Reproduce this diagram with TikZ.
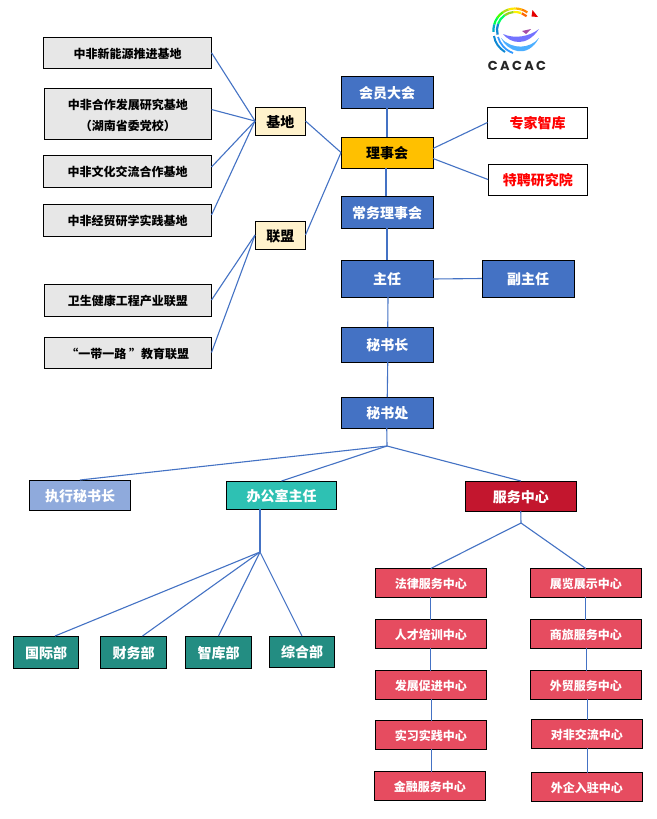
\documentclass[tikz,border=0pt]{standalone}
\usepackage{fontspec}
\setmainfont{Noto Sans CJK SC}
\newfontfamily\logofont[LetterSpace=18]{Poppins}
\usetikzlibrary{calc}
\definecolor{linkc}{HTML}{4472C4}
\definecolor{blueb}{HTML}{4472C4}
\definecolor{lightb}{HTML}{8FAADC}
\definecolor{teal1}{HTML}{2EC1B3}
\definecolor{teal2}{HTML}{238D82}
\definecolor{redb}{HTML}{E64C60}
\definecolor{darkr}{HTML}{C3162E}
\definecolor{amber}{HTML}{FFC000}
\definecolor{cream}{HTML}{FFF2CC}
\definecolor{greyb}{HTML}{E7E7E7}
\tikzset{
  boxbase/.style={draw=black,line width=0.9pt,inner sep=0pt,outer sep=0pt,align=center,text height=14pt,text depth=1.4pt,font=\fontsize{14}{20}\selectfont\bfseries},
  smalltext/.style={text height=12.3pt,text depth=1.2pt,font=\fontsize{12}{16}\selectfont\bfseries},
  greybox/.style={boxbase,smalltext,fill=greyb,text=black},
  twolines/.style={text height=,text depth=,font=\fontsize{12}{21}\selectfont\bfseries},
  creambox/.style={boxbase,fill=cream,text=black},
  bluebox/.style={boxbase,fill=blueb,text=white},
  amberbox/.style={boxbase,fill=amber,text=black},
  whitebox/.style={boxbase,fill=white,text=red},
  lightbox/.style={boxbase,fill=lightb,text=white},
  tealbox/.style={boxbase,fill=teal1,text=white},
  deepbox/.style={boxbase,fill=teal2,text=white},
  redbox/.style={boxbase,smalltext,fill=redb,text=white},
  crimson/.style={boxbase,fill=darkr,text=white},
  link/.style={draw=linkc,line width=1.1pt},
  feather/.style={line width=2.2pt,line cap=butt}
}
\newcommand{\bx}[7]{%
  \pgfmathsetmacro{\bxw}{#4-#2-0.5}\pgfmathsetmacro{\bxh}{#5-#3}%
  \pgfmathsetmacro{\bxcx}{(#2+#4-0.5)/2}\pgfmathsetmacro{\bxcy}{(#3+#5)/2}%
  \node[#6,minimum width=\bxw pt,minimum height=\bxh pt] (#1) at (\bxcx,\bxcy) {#7};}
\begin{document}
\begin{tikzpicture}[x=1pt,y=-1pt]
\useasboundingbox (0,0) rectangle (656,819);
\fill[white] (0,0) rectangle (656,819);
% boxes
\bx{b1}{43.5}{37.5}{212}{68}{greybox}{中非新能源推进基地}
\bx{b2}{44}{88}{212}{139}{greybox,twolines}{\rule{0pt}{15pt}中非合作发展研究基地\\（湖南省委党校）}
\bx{b3}{43.5}{155}{212}{187}{greybox}{中非文化交流合作基地}
\bx{b4}{43.5}{204}{212}{236}{greybox}{中非经贸研学实践基地}
\bx{l1}{44}{284}{212}{316}{greybox}{卫生健康工程产业联盟}
\bx{l2}{44}{337}{212}{368}{greybox}{“一带一路 ”教育联盟}
\bx{jd}{255}{107}{306}{135}{creambox}{基地}
\bx{lm}{255}{221}{306}{249}{creambox}{联盟}
\bx{hy}{341}{76}{433.5}{108}{bluebox}{会员大会}
\bx{ls}{341}{137}{433.5}{168}{amberbox}{理事会}
\bx{cw}{341}{196}{433.5}{228}{bluebox}{常务理事会}
\bx{zr}{341}{260}{433.5}{297}{bluebox}{主任}
\bx{fz}{482}{260}{574.5}{297}{bluebox}{副主任}
\bx{zj}{487.5}{107}{588}{138}{whitebox}{专家智库}
\bx{tp}{488}{164}{588}{195}{whitebox}{特聘研究院}
\bx{ms}{341}{327}{434}{362}{bluebox}{秘书长}
\bx{mc}{341}{397}{434}{428}{bluebox}{秘书处}
\bx{zx}{29.5}{480}{131}{510}{lightbox}{执行秘书长}
\bx{bg}{226.5}{481}{337}{509}{tealbox}{办公室主任}
\bx{fw}{465}{481}{577}{511}{crimson}{服务中心}
\bx{gj}{13.5}{636}{79}{668}{deepbox}{国际部}
\bx{cb}{100.5}{636}{167}{668}{deepbox}{财务部}
\bx{zk}{185.5}{636}{252}{668}{deepbox}{智库部}
\bx{zh}{269.5}{636}{335}{667}{deepbox}{综合部}
\bx{r1}{375.5}{568.5}{486.5}{597}{redbox}{法律服务中心}
\bx{r2}{375.5}{619.5}{486.5}{648}{redbox}{人才培训中心}
\bx{r3}{375.5}{670.5}{486.5}{699}{redbox}{发展促进中心}
\bx{r4}{375.5}{720.5}{486.5}{749}{redbox}{实习实践中心}
\bx{r5}{374.5}{771.5}{485.5}{800}{redbox}{金融服务中心}
\bx{s1}{530.5}{568.5}{641.5}{597}{redbox}{展览展示中心}
\bx{s2}{530.5}{619.5}{641.5}{648}{redbox}{商旅服务中心}
\bx{s3}{530.5}{670.5}{641.5}{699}{redbox}{外贸服务中心}
\bx{s4}{531.5}{719.5}{642.5}{748}{redbox}{对非交流中心}
\bx{s5}{531.5}{772.5}{642.5}{801}{redbox}{外企入驻中心}
% junctions
\coordinate (j0) at (387,446);
\coordinate (j1) at (260,552);
\coordinate (j2) at (521,523);
% connectors
\draw[link] (b1.east) -- (jd.west);
\draw[link] ([yshift=4pt]b2.east) -- (jd.west);
\draw[link] ([yshift=4pt]b3.east) -- (jd.west);
\draw[link] ([yshift=5pt]b4.east) -- (jd.west);
\draw[link] (l1.east) -- (lm.west);
\draw[link] (l2.east) -- (lm.west);
\draw[link] (jd.east) -- (ls.west);
\draw[link] (lm.east) -- (ls.west);
\draw[link] (hy.south) -- (ls.north);
\draw[link] ([xshift=-1pt]ls.south) -- ([xshift=-1pt]cw.north);
\draw[link] (cw.south) -- (zr.north);
\draw[link] ([xshift=1pt]zr.south) -- ([xshift=.5pt]ms.north);
\draw[link] ([xshift=.5pt]ms.south) -- (mc.north);
\draw[link] ([yshift=4pt]ls.east) -- (zj.west);
\draw[link] ([yshift=-6pt]ls.east) -- (tp.west);
\draw[link] ([yshift=-.5pt]zr.east) -- (fz.west);
\draw[link] ([xshift=-.5pt]mc.south) -- (j0);
\draw[link] (j0) -- ([xshift=0pt]zx.north);
\draw[link] (j0) -- (bg.north);
\draw[link] (j0) -- (fw.north);
\draw[link] (bg.south -| j1) -- (j1);
\draw[link] (j1) -- ([xshift=9pt]gj.north);
\draw[link] (j1) -- ([xshift=9pt]cb.north);
\draw[link] (j1) -- (zk.north);
\draw[link] (j1) -- (zh.north);
\draw[link] (fw.south) -- (j2);
\draw[link] (j2) -- (r1.north);
\draw[link] (j2) -- (s1.north);
\draw[link] (r1.south) -- (r2.north);
\draw[link] (r2.south) -- (r3.north);
\draw[link] ([xshift=.5pt]r3.south) -- ([xshift=.5pt]r4.north);
\draw[link] ([xshift=1pt]r4.south) -- ([xshift=2pt]r5.north);
\draw[link] (s1.south) -- (s2.north);
\draw[link] ([xshift=1pt]s2.south) -- ([xshift=1pt]s3.north);
\draw[link] ([xshift=2pt]s3.south) -- ([xshift=1pt]s4.north);
\draw[link] ([xshift=.5pt]s4.south) -- ([xshift=.5pt]s5.north);
% logo
\fill[red!90!black] (532.5,10) -- (538,17) -- (531.5,16.5) -- cycle;
\foreach \c/\a/\b/\r in {
  orange/55/72/21.5, orange!60!yellow/72/88/21.5, yellow!90!orange/88/108/21.5, yellow!70!green/108/125/21.5,
  green!70!yellow/125/145/21.5, green!70!cyan/145/165/21.5, cyan!75!green/165/185/21.5,
  orange!80!red/50/68/18, yellow/70/95/18, yellow!60!green/95/125/18, green!60!cyan/125/160/18, cyan!70!blue/160/195/18}{
  \draw[\c,feather] ({515+\r*cos(\a)},{30-\r*sin(\a)}) arc[start angle=-\a,end angle=-\b,radius=\r];
}
\draw[cyan!70!blue,line width=2pt] (494,36) .. controls (495,43) and (499,48) .. (505,52);
\draw[blue!50!cyan!80!white,line width=1.8pt] (498,37) .. controls (500,44) and (505,50) .. (513,53);
\fill[blue!45!cyan!70!white] (501,38) .. controls (507,51) and (527,60) .. (539,38) .. controls (530,49) and (512,50) .. (501,38) -- cycle;
\fill[blue!55!white] (503,34) .. controls (511,44) and (527,47) .. (539,29) .. controls (529,37) and (514,39) .. (503,34) -- cycle;
\fill[violet!70!white] (522,31) -- (531,29) -- (526,34) -- cycle;
\node[inner sep=0pt,font=\fontsize{13}{13}\selectfont\logofont\bfseries,text=black!85] (logo) at (517,65.5) {CACAC};
\end{tikzpicture}
\end{document}
